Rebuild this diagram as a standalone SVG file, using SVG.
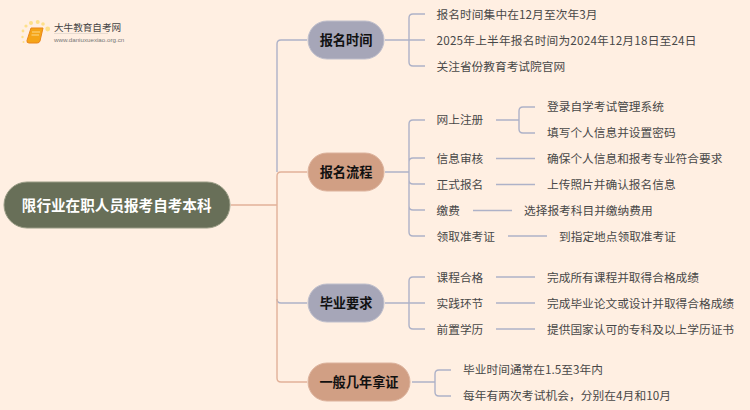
<svg xmlns="http://www.w3.org/2000/svg" width="750" height="410" viewBox="0 0 750 410">
<style>
text{font-family:"Noto Sans CJK SC","Noto Sans",sans-serif}
.t{font-size:11.7px;fill:#484848;dominant-baseline:central}
.h{font-size:13.2px;font-weight:700;fill:#111;text-anchor:middle;dominant-baseline:central}
.b{fill:none;stroke:#aeb2c8;stroke-width:1.4}
.o{fill:none;stroke:#e2b199;stroke-width:1.4}
.p1{fill:#a6a6b8;stroke:#bfbfcc;stroke-width:1}
.p2{fill:#d19f84;stroke:#dcb29c;stroke-width:1}
.d{fill:#fde08a}
</style>
<rect width="750" height="410" fill="#ffefe2"/>
<g id="logo">
<circle cx="47.7" cy="29" r="2.4" class="d"/><circle cx="43" cy="24" r="1.8" class="d"/><circle cx="37.7" cy="22" r="2" class="d"/><circle cx="31" cy="23" r="2" class="d"/><circle cx="26" cy="26" r="1.6" class="d"/><circle cx="23" cy="31" r="1.4" class="d"/><circle cx="22.5" cy="37" r="1.2" class="d"/><circle cx="23.5" cy="42" r="1" class="d"/>
<path d="M31 28H43L40 41Q39.500 43 37 43H29Q26.500 43 27 40.500Z" fill="#f5a417" stroke="#e9851a"/>
<path d="M32 32H40M31.500 35H39" stroke="#fcd98a" stroke-width="1" fill="none"/>
<text x="54" y="26.500" style="font-size:9.6px" fill="#444" dominant-baseline="central">大牛教育自考网</text>
<path d="M54 33.500H108" stroke="#ddd2c8" stroke-width="0.7"/>
<text x="54" y="39" style="font-size:6.2px;font-family:'Liberation Sans',sans-serif" fill="#777" dominant-baseline="central">www.daniuxuexiao.org.cn</text>
</g>
<g id="connectors">
<path class="b" d="M277 172V44Q277 40 281 40H307"/>
<path class="b" d="M277 299Q277 303 281 303H307"/>
<path class="o" d="M231 205H277"/>
<path class="o" d="M277 176Q277 172 281 172H307"/>
<path class="o" d="M277 176V378Q277 382 281 382H307"/>
<path class="b" d="M385 40H425M409 40V18Q409 14 413 14H425M409 40V62Q409 66 413 66H425"/>
<path class="b" d="M385 172H409M409 124Q409 120 413 120H425M409 124V232Q409 236 413 236H425M409 162Q409 158 413 158H425M409 180Q409 184 413 184H425M409 206Q409 210 413 210H425"/>
<path class="b" d="M385 303H425M409 303V281Q409 277 413 277H425M409 303V325Q409 329 413 329H425"/>
<path class="b" d="M412 382H435M435 382V374Q435 370 439 370H451M435 382V392Q435 396 439 396H451"/>
<path class="b" d="M496 120H519M519 120V111Q519 107 523 107H535M519 120V129Q519 133 523 133H535"/>
<path class="b" d="M496 158.500H535M496 184.500H535M473 210.500H512M508 236H547M496 277H535M496 303H535M496 329H535"/>
</g>
<g id="root"><rect x="4" y="182" width="226" height="46" rx="23" fill="#686f58" stroke="#989b84"/><text x="116.700" y="204" class="h" style="fill:#fff;font-size:14.6px">限行业在职人员报考自考本科</text></g>
<g id="n1"><rect x="308" y="21" width="76" height="38" rx="19" class="p1"/><text x="346" y="39" class="h">报名时间</text></g>
<g id="n2"><rect x="308" y="153" width="76" height="38" rx="19" class="p2"/><text x="346" y="171" class="h">报名流程</text></g>
<g id="n3"><rect x="308" y="284" width="76" height="38" rx="19" class="p1"/><text x="346" y="302" class="h">毕业要求</text></g>
<g id="n4"><rect x="308" y="363" width="102" height="38" rx="19" class="p2"/><text x="359" y="381" class="h">一般几年拿证</text></g>
<g id="labels">
<text x="436.500" y="13" class="t" textLength="161">报名时间集中在12月至次年3月</text>
<text x="436.500" y="39" class="t" textLength="260">2025年上半年报名时间为2024年12月18日至24日</text>
<text x="436.500" y="65" class="t">关注省份教育考试院官网</text>
<text x="436.500" y="118.500" class="t">网上注册</text>
<text x="547" y="105.500" class="t">登录自学考试管理系统</text>
<text x="547" y="131.500" class="t">填写个人信息并设置密码</text>
<text x="436.500" y="157" class="t">信息审核</text>
<text x="547" y="157" class="t">确保个人信息和报考专业符合要求</text>
<text x="436.500" y="183" class="t">正式报名</text>
<text x="547" y="183" class="t">上传照片并确认报名信息</text>
<text x="436.500" y="209" class="t">缴费</text>
<text x="524" y="209" class="t">选择报考科目并缴纳费用</text>
<text x="436.500" y="235" class="t">领取准考证</text>
<text x="559" y="235" class="t">到指定地点领取准考证</text>
<text x="436.500" y="276" class="t">课程合格</text>
<text x="547" y="276" class="t">完成所有课程并取得合格成绩</text>
<text x="436.500" y="302" class="t">实践环节</text>
<text x="547" y="302" class="t">完成毕业论文或设计并取得合格成绩</text>
<text x="436.500" y="328" class="t">前置学历</text>
<text x="547" y="328" class="t">提供国家认可的专科及以上学历证书</text>
<text x="463" y="368.500" class="t" textLength="140">毕业时间通常在1.5至3年内</text>
<text x="463" y="394.500" class="t" textLength="208">每年有两次考试机会，分别在4月和10月</text>
</g>
</svg>
